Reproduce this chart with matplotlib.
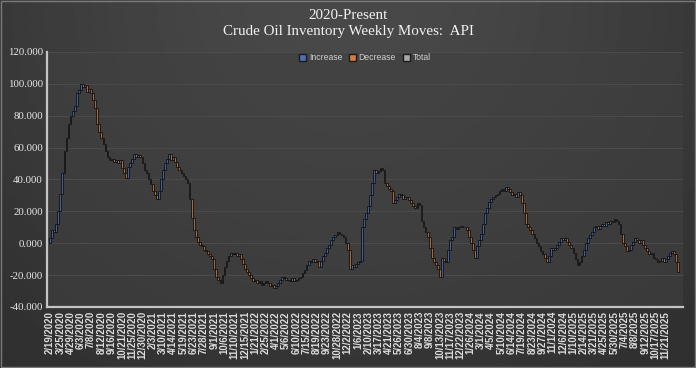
import numpy as np
from matplotlib import pyplot as plt
from matplotlib.patches import Patch, Rectangle

# cumulative inventory level (weekly)
levels = [3, 8, 7, 12, 20, 31,
          44, 58, 66, 75, 80, 83, 86, 94, 96, 100,
          98, 99, 95, 97, 94, 90, 85, 75, 70, 66,
          62, 58, 54, 52, 53, 51, 52, 50, 52, 47,
          44, 41, 48, 50, 53, 56, 54, 55, 54, 50,
          46, 44, 40, 37, 33, 30, 28, 33, 40, 46,
          50, 53, 56, 52, 54, 51, 48, 46, 44, 42,
          40, 38, 28, 16, 8, 4, 1, -1, -2, -4,
          -5, -7, -8, -10, -16, -21, -23, -25, -20, -15,
          -11, -8, -6, -7, -6, -8, -7, -10, -13, -16,
          -18, -20, -22, -24, -23, -25, -24, -26, -25, -24,
          -25, -27, -26, -28, -27, -25, -23, -21, -22, -23,
          -23, -24, -22, -24, -23, -22, -21, -19, -17, -14,
          -11, -12, -10, -12, -11, -15, -11, -8, -6, -3,
          -1, 2, 4, 5, 7, 6, 5, 4, 0, -4,
          -16, -14, -15, -13, -12, -11, 10, 15, 19, 23,
          30, 38, 46, 44, 45, 47, 46, 38, 36, 34,
          33, 25, 27, 29, 31, 30, 28, 29, 29, 27,
          25, 23, 22, 25, 24, 14, 10, 7, 4, -3,
          -9, -12, -14, -16, -21, -9, -11, -12, -4, 2,
          4, 10, 9, 10, 11, 10, 10, 8, 4, 0,
          -4, -9, -2, 2, 6, 12, 19, 22, 26, 28,
          29, 30, 31, 33, 34, 33, 35, 34, 32, 30,
          31, 29, 32, 30, 25, 19, 12, 10, 8, 6,
          3, 0, -2, -5, -7, -9, -12, -8, -3, -4,
          -3, -1, 1, 3, 2, 3, 1, -1, -3, -6,
          -10, -14, -12, -8, -4, 0, 3, 5, 7, 10,
          11, 9, 11, 12, 11, 13, 12, 14, 13, 15,
          14, 12, 6, 0, -2, -5, -4, -1, 1, 3,
          2, 0, 2, -1, -3, -5, -7, -6, -9, -10,
          -12, -11, -9, -12, -10, -8, -6, -5, -7, -12, -18]

tick_labels = ["2/19/2020", "3/25/2020", "4/29/2020", "6/3/2020", "7/8/2020",
               "8/12/2020", "9/16/2020", "10/21/2020", "11/25/2020", "12/30/2020",
               "2/3/2021", "3/10/2021", "4/14/2021", "5/19/2021", "6/23/2021",
               "7/28/2021", "9/1/2021", "10/6/2021", "11/10/2021", "12/15/2021",
               "1/21/2022", "2/25/2022", "4/1/2022", "5/6/2022", "6/10/2022",
               "7/15/2022", "8/19/2022", "9/23/2022", "10/28/2022", "12/2/2022",
               "1/6/2023", "2/10/2023", "3/17/2023", "4/21/2023", "5/26/2023",
               "6/30/2023", "8/4/2023", "9/8/2023", "10/13/2023", "11/17/2023",
               "12/22/2023", "1/26/2024", "3/1/2024", "4/5/2024", "5/10/2024",
               "6/14/2024", "7/19/2024", "8/23/2024", "9/27/2024", "11/1/2024",
               "12/6/2024", "1/10/2025", "2/14/2025", "3/21/2025", "4/25/2025",
               "5/30/2025", "7/4/2025", "8/8/2025", "9/12/2025", "10/17/2025",
               "11/21/2025"]

levels = np.array(levels, dtype=float)
prev = np.concatenate([[0.0], levels[:-1]])
change = levels - prev
x = np.arange(len(levels))

c_inc = '#41609a'
c_dec = '#a8693a'
c_tot = '#9a9a9a'
colors = [c_inc if d >= 0 else c_dec for d in change]

fig = plt.figure(figsize=(6.96, 3.68), dpi=100)

# dark background, a little lighter at the top middle
bg = fig.add_axes([0, 0, 1, 1], zorder=-10)
gx, gy = np.meshgrid(np.linspace(-1, 1, 300), np.linspace(0, 1, 160))
grad = np.exp(-((gx / 1.2) ** 2 + ((1 - gy) / 1.0) ** 2))
bg.imshow(grad, cmap='gray', vmin=-1.35, vmax=6.9, aspect='auto',
          extent=[0, 1, 0, 1], origin='lower')
bg.add_patch(Rectangle((0.001, 0.002), 0.997, 0.995, fill=False,
                       edgecolor='#7a7a7a', linewidth=1.0))
bg.set_xlim(0, 1)
bg.set_ylim(0, 1)
bg.axis('off')

ax = fig.add_axes([0.0675, 0.166, 0.9135, 0.693])
ax.set_facecolor((0.25, 0.25, 0.25, 0.6))

ax.bar(x, change, bottom=prev, width=0.85, color=colors,
       edgecolor='#101010', linewidth=0.6, zorder=3)

ax.set_xlim(-1.5, 308.3)
ax.set_ylim(-40, 120)
ax.set_yticks(np.arange(-40, 121, 20))
ax.set_yticklabels(['%.3f' % v for v in np.arange(-40, 121, 20)],
                   family='Liberation Serif', fontsize=7.8, color='#e6e6e6')
ax.set_xticks(np.arange(0, len(tick_labels) * 5, 5))
ax.set_xticklabels(tick_labels, rotation=90, fontsize=6.9, fontweight='bold',
                   family='Liberation Sans', color='#dcdcdc')
ax.tick_params(length=0, pad=3)
ax.grid(axis='y', color='#4e4e4e', linewidth=0.6, zorder=0)

for s in ['top', 'right']:
    ax.spines[s].set_visible(False)
for s in ['left', 'bottom']:
    ax.spines[s].set_color('#c4c4c4')
    ax.spines[s].set_linewidth(1.6)

handles = [Patch(facecolor='#4a6fb5', edgecolor='#1c1c1c', label='Increase'),
           Patch(facecolor='#d07f3e', edgecolor='#1c1c1c', label='Decrease'),
           Patch(facecolor='#a8a8a8', edgecolor='#1c1c1c', label='Total')]
ax.legend(handles=handles, loc='upper center', ncol=3, frameon=False,
          labelcolor='#d0d0d0', handlelength=0.8, handleheight=0.9,
          handletextpad=0.3, columnspacing=0.8, bbox_to_anchor=(0.5, 1.025),
          prop={'family': 'Liberation Sans', 'size': 6.2})

fig.text(0.5, 0.958, '2020-Present', ha='center', va='center',
         family='Liberation Serif', fontsize=10.8, color='#f2f2f2')
fig.text(0.5, 0.915, 'Crude Oil Inventory Weekly Moves:  API', ha='center',
         va='center', family='Liberation Serif', fontsize=10.8, color='#f2f2f2')

fig.savefig('out.png', dpi=100)
